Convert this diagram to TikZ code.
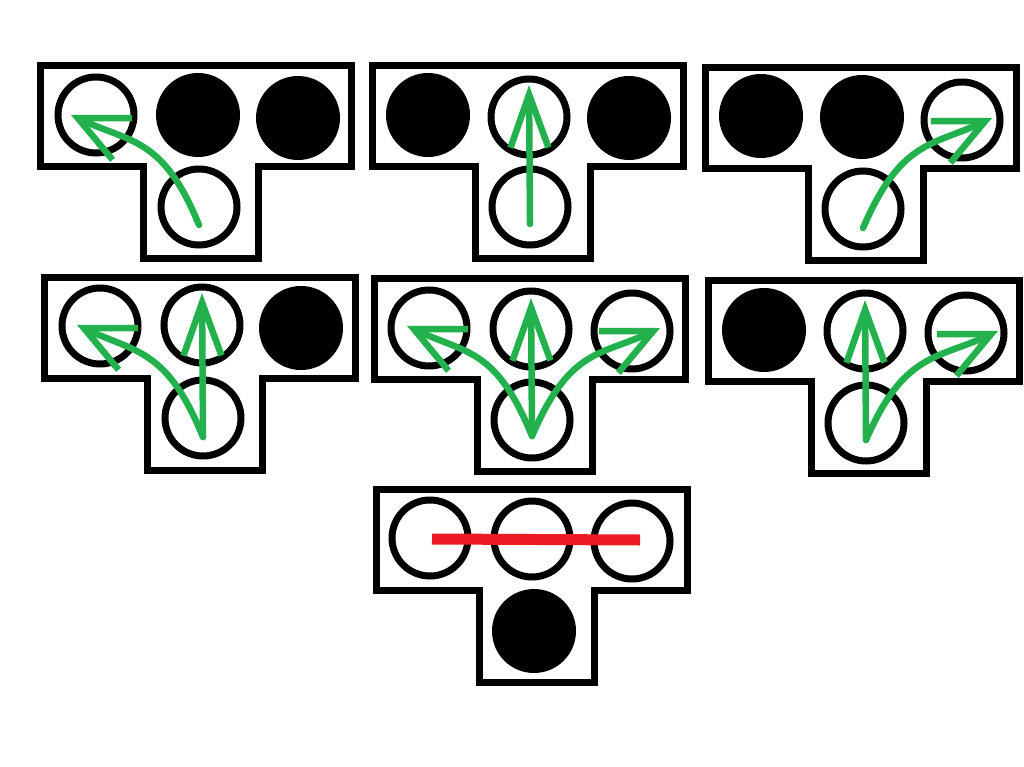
\documentclass[tikz,border=0pt]{standalone}
\usetikzlibrary{arrows.meta}
\definecolor{arrowgreen}{RGB}{34,177,76}
\definecolor{barred}{RGB}{237,28,36}
\tikzset{
  lit/.style={circle, draw=black, line width=7pt, fill=white, minimum size=76pt, inner sep=0pt},
  dark/.style={circle, draw=black, line width=2pt, fill=black, minimum size=82pt, inner sep=0pt},
  outline/.style={draw=black, line width=7pt, line join=miter},
  turn/.style={draw=arrowgreen, line width=6.5pt, line cap=round, -{Straight Barb[length=49pt, width=46pt, line width=6.5pt]}},
  ahead/.style={draw=arrowgreen, line width=6.5pt, line cap=round, -{Straight Barb[length=53pt, width=38pt, line width=6.5pt]}},
  stopbar/.style={draw=barred, line width=11pt}
}
\begin{document}
\begin{tikzpicture}[x=1pt, y=-1pt]
  \useasboundingbox (0,0) rectangle (1024,767);

  % the T-shaped housings, all the same size
  \foreach \hx/\hy in {40.5/65.5, 372.5/65.5, 705.5/67.5, 44.5/277.5, 374.5/278.5, 708.5/280.5, 376.5/489.5}
    \draw[outline, shift={(\hx,\hy)}] (0,0) -- (311,0) -- (311,101) -- (218,101) -- (218,193) -- (103,193) -- (103,101) -- (0,101) -- cycle;

  % top row
  \node[lit] (a1) at (96,115) {};
  \node[dark] (a2) at (198,115) {};
  \node[dark] (a3) at (298,118) {};
  \node[lit] (a4) at (199,207) {};

  \node[dark] (b1) at (428,115) {};
  \node[lit] (b2) at (529,117) {};
  \node[dark] (b3) at (629,118) {};
  \node[lit] (b4) at (530,207) {};

  \node[dark] (c1) at (761,116) {};
  \node[dark] (c2) at (862,117) {};
  \node[lit] (c3) at (962,120) {};
  \node[lit] (c4) at (863,209) {};

  % middle row
  \node[lit] (d1) at (100,326) {};
  \node[lit] (d2) at (202,325) {};
  \node[dark] (d3) at (301,328) {};
  \node[lit] (d4) at (203,418) {};

  \node[lit] (e1) at (429,328) {};
  \node[lit] (e2) at (531,329) {};
  \node[lit] (e3) at (632,331) {};
  \node[lit] (e4) at (532,420) {};

  \node[dark] (f1) at (764,330) {};
  \node[lit] (f2) at (865,331) {};
  \node[lit] (f3) at (966,333) {};
  \node[lit] (f4) at (866,423) {};

  % bottom head
  \node[lit] (g1) at (430,538) {};
  \node[lit] (g2) at (532,539) {};
  \node[lit] (g3) at (632,541) {};
  \node[dark] (g4) at (534,631) {};

  \draw[turn] ([yshift=-18pt]a4.center) .. controls +(-36,-88) and +(60,28) .. ([xshift=-25pt]a1.center);
  \draw[ahead] ([yshift=-17pt]b4.center) -- ([yshift=32pt]b2.center);
  \draw[turn] ([yshift=-19pt]c4.center) .. controls +(38,-88) and +(-60,28) .. ([xshift=30pt,yshift=2pt]c3.center);

  \draw[turn] ([yshift=-19pt]d4.center) .. controls +(-36,-88) and +(60,28) .. ([xshift=-23pt,yshift=1pt]d1.center);
  \draw[ahead] ([yshift=-19pt]d4.center) -- ([yshift=32pt]d2.center);

  \draw[turn] ([yshift=-16pt]e4.center) .. controls +(-36,-88) and +(60,28) .. ([xshift=-22pt,yshift=2pt]e1.center);
  \draw[ahead] ([yshift=-16pt]e4.center) -- ([yshift=31pt]e2.center);
  \draw[turn] ([yshift=-16pt]e4.center) .. controls +(38,-88) and +(-60,28) .. ([xshift=28pt,yshift=3pt]e3.center);

  \draw[ahead] ([yshift=-17pt]f4.center) -- ([yshift=31pt]f2.center);
  \draw[turn] ([yshift=-17pt]f4.center) .. controls +(38,-88) and +(-60,28) .. ([xshift=32pt,yshift=2pt]f3.center);

  \draw[stopbar] ([xshift=2pt,yshift=-1pt]g1.center) -- ([xshift=8pt,yshift=1pt]g3.center);
\end{tikzpicture}
\end{document}
